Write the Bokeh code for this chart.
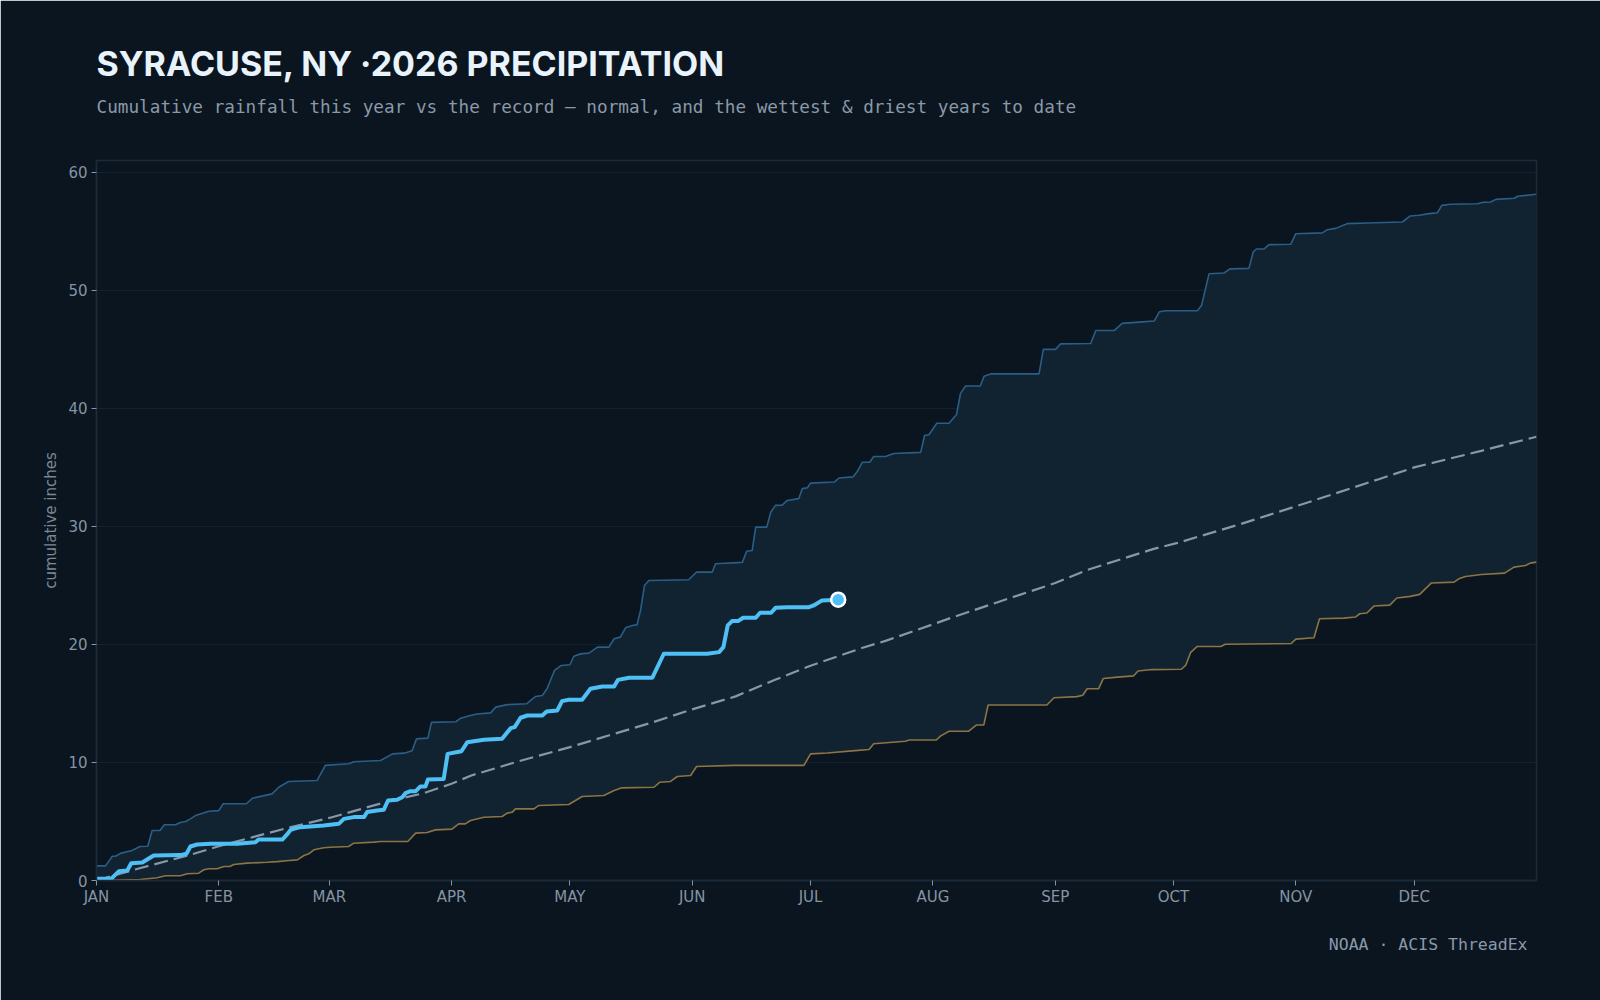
from bokeh.plotting import figure
from bokeh.models import Range1d, FixedTicker, Title
from bokeh.embed import file_html
from bokeh.resources import INLINE

# ---------------- data (day of year from Jan 1, inches) ----------------
month_days = [0, 31, 59, 90, 120, 151, 181, 212, 243, 273, 304, 334]
month_labels = ["JAN", "FEB", "MAR", "APR", "MAY", "JUN", "JUL", "AUG", "SEP", "OCT", "NOV", "DEC"]
y_ticks = [0, 10, 20, 30, 40, 50, 60]

wettest_day = [0, 2.3, 4.0, 4.8, 6.1, 9.0, 11.0, 13.0, 14.1, 16.1, 17.2, 20.0, 21.3, 22.6, 23.8, 25.1,
               28.5, 31.0, 32.1, 38.0, 39.5, 44.5, 46.2, 48.7, 55.9, 58.0, 64.0, 65.2, 72.0, 75.0, 78.0,
               80.0, 81.1, 84.0, 84.9, 91.1, 92.3, 94.8, 96.5, 99.9, 101.2, 104.1, 109.0, 111.3, 113.0,
               114.2, 116.1, 117.8, 120.0, 121.0, 122.7, 124.8, 127.0, 129.9, 131.2, 132.8, 134.1, 135.8,
               137.0, 137.9, 138.9, 140.0, 150.1, 152.1, 156.1, 156.9, 163.7, 164.8, 166.2, 167.1, 169.9,
               170.9, 172.1, 173.8, 175.1, 178.0, 178.9, 180.2, 181.0, 187.0, 188.2, 191.8, 192.8, 194.1,
               196.0, 197.0, 200.0, 202.1, 208.9, 209.9, 211.0, 213.0, 216.1, 218.0, 219.0, 220.3, 224.0,
               225.0, 226.6, 238.9, 240.0, 243.1, 244.3, 252.0, 253.3, 258.0, 260.0, 265.1, 268.1, 269.4,
               271.0, 279.1, 280.1, 282.0, 285.8, 287.3, 292.1, 293.2, 294.0, 295.9, 297.2, 302.7, 304.0,
               310.7, 312.0, 314.1, 317.0, 322.1, 331.0, 333.0, 335.2, 337.8, 339.9, 341.0, 343.2, 350.0,
               351.3, 353.4, 354.7, 359.4, 360.2, 365.0]
wettest_in = [1.24, 1.24, 2.06, 2.06, 2.30, 2.54, 2.88, 2.90, 4.24, 4.24, 4.72, 4.72, 4.92, 5.00, 5.22, 5.50,
              5.87, 5.92, 6.50, 6.50, 6.97, 7.34, 7.90, 8.39, 8.47, 9.75, 9.89, 10.06, 10.17, 10.73, 10.79,
              11.00, 12.00, 12.06, 13.40, 13.45, 13.75, 13.98, 14.10, 14.20, 14.69, 14.90, 14.97, 15.59, 15.68,
              16.24, 17.80, 18.22, 18.28, 19.00, 19.20, 19.26, 19.77, 19.77, 20.48, 20.62, 21.41, 21.60,
              21.66, 22.88, 24.99, 25.42, 25.48, 26.13, 26.13, 26.84, 26.95, 27.90, 27.96, 29.94, 29.94,
              31.20, 31.78, 31.80, 32.20, 32.35, 33.20, 33.27, 33.67, 33.76, 34.10, 34.20, 34.62, 35.43,
              35.43, 35.92, 35.92, 36.18, 36.27, 37.70, 37.76, 38.74, 38.74, 39.48, 41.27, 41.90, 41.90,
              42.73, 42.92, 42.92, 45.00, 45.00, 45.46, 45.50, 46.60, 46.60, 47.20, 47.33, 47.40, 48.18,
              48.27, 48.28, 48.73, 51.40, 51.47, 51.82, 51.86, 53.25, 53.50, 53.50, 53.87, 53.90, 54.80,
              54.87, 55.14, 55.25, 55.65, 55.71, 55.79, 56.30, 56.36, 56.50, 56.58, 57.20, 57.29, 57.34,
              57.45, 57.48, 57.71, 57.80, 57.97, 58.14]

driest_day = [0, 11.1, 15.4, 17.5, 21.3, 23.0, 25.9, 27.2, 28.5, 30.6, 32.3, 33.8, 34.8, 38.2, 43.3, 45.8,
              48.8, 50.9, 52.6, 53.8, 55.1, 57.6, 59.3, 63.9, 65.2, 70.3, 72.0, 78.9, 80.9, 83.8, 85.9,
              90.1, 91.8, 93.5, 94.8, 98.2, 102.8, 104.1, 105.4, 106.2, 110.9, 112.1, 119.7, 121.4, 123.1,
              128.6, 131.2, 133.2, 141.3, 142.8, 145.5, 147.2, 150.6, 152.1, 161.6, 179.3, 181.0, 185.2,
              192.3, 195.8, 197.0, 205.0, 206.0, 212.8, 214.0, 216.1, 221.0, 223.0, 224.9, 226.0, 240.9,
              242.7, 248.5, 250.0, 251.1, 254.0, 255.2, 258.8, 262.9, 264.0, 267.5, 275.0, 276.1, 277.3,
              279.0, 285.0, 286.1, 302.8, 304.0, 308.6, 310.0, 316.2, 319.1, 320.2, 322.0, 323.8, 327.8,
              329.6, 333.0, 335.4, 338.3, 344.1, 345.3, 347.0, 351.1, 356.9, 359.3, 362.2, 363.4, 365.0]
driest_in = [0.00, 0.08, 0.23, 0.40, 0.40, 0.57, 0.62, 0.91, 1.00, 1.00, 1.19, 1.19, 1.36, 1.47, 1.55, 1.60,
             1.69, 1.75, 2.12, 2.26, 2.60, 2.77, 2.82, 2.88, 3.16, 3.25, 3.30, 3.30, 4.01, 4.07, 4.29,
             4.35, 4.80, 4.80, 5.08, 5.36, 5.42, 5.71, 5.79, 6.07, 6.07, 6.36, 6.44, 6.78, 7.12,
             7.20, 7.63, 7.85, 7.90, 8.33, 8.39, 8.81, 8.90, 9.66, 9.75, 9.75, 10.73, 10.80,
             11.00, 11.10, 11.58, 11.80, 11.90, 11.90, 12.25, 12.64, 12.64, 13.17, 13.17, 14.87, 14.87,
             15.48, 15.58, 15.70, 16.24, 16.24, 17.12, 17.23, 17.34, 17.75, 17.87, 17.90, 18.24, 19.30,
             19.83, 19.83, 20.02, 20.08, 20.45, 20.56, 22.17, 22.23, 22.32, 22.60, 22.66, 23.25, 23.33,
             23.93, 24.07, 24.24, 25.20, 25.28, 25.56, 25.76, 25.93, 26.04, 26.55, 26.69, 26.89, 26.97]

normal_day = [0, 10, 24, 31, 41, 49, 59, 67, 75, 83, 90, 95, 107, 120, 130, 141, 151, 162, 172, 181,
              194, 200, 212, 217, 234, 243, 251, 268, 274, 290, 304, 325, 334, 351, 365]
normal_in = [0.0, 0.95, 2.2, 2.9, 3.8, 4.5, 5.3, 6.05, 6.8, 7.4, 8.2, 8.9, 10.1, 11.3, 12.3, 13.4, 14.5,
             15.6, 17.0, 18.2, 19.7, 20.3, 21.7, 22.3, 24.2, 25.2, 26.3, 28.1, 28.6, 30.2, 31.7, 34.0,
             35.0, 36.4, 37.6]

current_day = [0, 3.7, 5.7, 7.8, 8.8, 11.6, 14.5, 21.3, 22.8, 23.8, 25.5, 28.9, 35.7, 40.3, 41.1, 47.1,
               48.3, 49.2, 50.0, 51.7, 54.2, 57.6, 61.4, 62.7, 65.2, 67.8, 68.6, 71.1, 72.8, 73.9, 76.2,
               77.5, 78.3, 79.6, 80.9, 82.1, 83.4, 84.0, 88.0, 89.0, 92.5, 94.0, 98.2, 102.8, 105.0,
               106.0, 107.5, 109.2, 113.0, 114.1, 116.8, 118.0, 119.7, 123.1, 125.2, 128.2, 131.2, 132.2,
               135.0, 140.9, 143.8, 154.8, 157.8, 158.9, 160.0, 161.1, 162.6, 163.9, 167.1, 168.2, 171.0,
               172.1, 175.1, 180.6, 181.8, 183.9, 188.0]
current_in = [0.14, 0.14, 0.79, 0.85, 1.46, 1.52, 2.12, 2.15, 2.26, 2.88, 3.05, 3.11, 3.11, 3.25, 3.47, 3.47,
              3.90, 4.29, 4.38, 4.52, 4.57, 4.66, 4.80, 5.22, 5.37, 5.37, 5.80, 5.93, 5.99, 6.78, 6.84,
              7.06, 7.40, 7.57, 7.57, 7.97, 7.97, 8.55, 8.60, 10.73, 10.95, 11.72, 11.92, 12.00, 12.91,
              13.00, 13.79, 13.98, 13.98, 14.32, 14.41, 15.20, 15.31, 15.31, 16.24, 16.44, 16.44, 17.00,
              17.18, 17.18, 19.21, 19.21, 19.35, 19.77, 21.61, 21.98, 21.98, 22.26, 22.26, 22.68, 22.68,
              23.10, 23.16, 23.16, 23.30, 23.73, 23.79]

# ---------------- style ----------------
BG = "#0b151f"
BAND = "#112231"
FRAME = "#1a2c3c"
GRID = "#14222f"
WET = "#2b5e86"
DRY = "#8c7444"
NORMAL = "#8797a8"
CUR = "#4fc0f5"
TICK = "#8593a3"

p = figure(width=1600, height=1000, output_backend="svg", toolbar_location=None,
           x_range=Range1d(0, 365), y_range=Range1d(0, 61),
           min_border_left=96, min_border_right=64, min_border_top=160, min_border_bottom=120,
           background_fill_color=BG, border_fill_color=BG,
           outline_line_color=FRAME, outline_line_width=1.5)

band_x = wettest_day + driest_day[::-1]
band_y = wettest_in + driest_in[::-1]
p.patch(band_x, band_y, fill_color=BAND, line_color=None)

p.line(driest_day, driest_in, line_color=DRY, line_width=1.6)
p.line(wettest_day, wettest_in, line_color=WET, line_width=1.6)
p.line(normal_day, normal_in, line_color=NORMAL, line_width=2.2, line_dash="14 6")
p.line(current_day, current_in, line_color=CUR, line_width=4, line_join="round")
p.scatter([current_day[-1]], [current_in[-1]], size=14, fill_color=CUR,
          line_color="#ffffff", line_width=2.5)

# axes
p.xaxis.ticker = FixedTicker(ticks=month_days)
p.xaxis.major_label_overrides = {d: m for d, m in zip(month_days, month_labels)}
p.yaxis.ticker = FixedTicker(ticks=y_ticks)
for ax in (p.xaxis[0], p.yaxis[0]):
    ax.major_label_text_font = "DejaVu Sans"
    ax.major_label_text_font_size = "15px"
    ax.major_label_text_color = TICK
    ax.major_tick_line_color = TICK
    ax.major_tick_out = 5
    ax.major_tick_in = 0
    ax.minor_tick_line_color = None
    ax.axis_line_color = FRAME
    ax.axis_line_width = 1.5
p.xaxis.major_label_standoff = 2
p.yaxis.major_label_standoff = 4
p.yaxis.axis_label = "cumulative inches"
p.yaxis.axis_label_text_font = "DejaVu Sans"
p.yaxis.axis_label_text_font_size = "15px"
p.yaxis.axis_label_text_font_style = "normal"
p.yaxis.axis_label_text_color = "#7a8898"
p.yaxis.axis_label_standoff = 5

p.xgrid.grid_line_color = None
p.ygrid.grid_line_color = GRID
p.ygrid.grid_line_width = 1

# ---------------- titles (stacked above the frame, nearest first) ----------------
p.add_layout(Title(text=".", text_font_size="10px", text_color=BG, standoff=34), "above")
p.add_layout(Title(text="Cumulative rainfall this year vs the record \u2014 normal, and the wettest & driest years to date",
                   text_font="DejaVu Sans Mono", text_font_size="17.7px", text_font_style="normal",
                   text_color="#8a99a8", standoff=0, offset=0), "above")
p.add_layout(Title(text="SYRACUSE, NY \u00b72026 PRECIPITATION",
                   text_font="Inter", text_font_size="34px", text_font_style="bold",
                   text_color="#e8f3fb", standoff=22, offset=0), "above")
p.add_layout(Title(text="NOAA \u00b7 ACIS ThreadEx", align="right",
                   text_font="DejaVu Sans Mono", text_font_size="16.5px", text_font_style="normal",
                   text_color="#8a99a8", standoff=49, offset=9), "below")

open("out.html", "w").write(file_html(p, INLINE))
